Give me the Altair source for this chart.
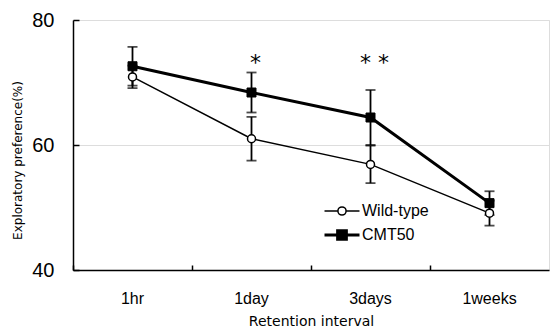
import altair as alt
import pandas as pd

# ---- data ----
intervals = ["1hr", "1day", "3days", "1weeks"]
series_names = ["Wild-type", "CMT50"]
wt_mean = [70.9, 61.0, 56.9, 49.1]
wt_err = [1.8, 3.5, 3.0, 2.0]
cmt_mean = [72.6, 68.4, 64.4, 50.7]
cmt_err = [3.1, 3.2, 4.4, 1.9]
star_intervals = ["1day", "3days"]
star_labels = ["*", "* *"]
star_y = [73.3, 73.3]
y_ticks = [40, 60, 80]

rows = []
for name, means, errs in [(series_names[0], wt_mean, wt_err), (series_names[1], cmt_mean, cmt_err)]:
    for iv, m, e in zip(intervals, means, errs):
        rows.append({"series": name, "interval": iv, "mean": m, "err": e})
df = pd.DataFrame(rows)
stars = pd.DataFrame({"interval": star_intervals, "y": star_y, "label": star_labels})

W, H = 476, 250
LABEL_FONT = "Liberation Sans"
TITLE_FONT = "DejaVu Sans"

x_scale = alt.Scale(type="band", domain=intervals, paddingInner=0, paddingOuter=0)
y_scale = alt.Scale(domain=[40, 80], nice=False, zero=False)

main_x_axis = alt.Axis(
    title="Retention interval", labelAngle=0, ticks=False, tickSize=0,
    domainColor="black", domainWidth=1.5,
    labelFont=LABEL_FONT, labelFontSize=16, labelColor="black", labelPadding=20,
    titleFont=TITLE_FONT, titleFontSize=14, titleFontWeight="normal", titleColor="black",
    titleY=51, titleBaseline="middle",
)
main_y_axis = alt.Axis(
    title="Exploratory preference(%)", values=y_ticks, ticks=False, tickSize=0,
    domainColor="black", domainWidth=1.5,
    labelFont=LABEL_FONT, labelFontSize=20, labelColor="black", labelPadding=19,
    titleFont=TITLE_FONT, titleFontSize=12, titleFontWeight="normal", titleColor="black",
    titleX=-56, titleY=140, titleAngle=270, titleAlign="center", titleBaseline="middle",
)
tick_x_axis = alt.Axis(orient="top", offset=-H, labels=False, domain=False, ticks=True,
                       tickSize=5, tickColor="black", tickWidth=1.5, bandPosition=0, title=None)
tick_y_axis = alt.Axis(orient="right", offset=-W, labels=False, domain=False, ticks=True,
                       tickSize=6, tickColor="black", tickWidth=1.5, values=y_ticks, title=None)

base = alt.Chart(df).transform_calculate(lo="datum.mean - datum.err", hi="datum.mean + datum.err")


def xenc(axis=None):
    return alt.X("interval:N", scale=x_scale, sort=intervals, axis=axis)


def yenc(field="mean", axis=None):
    return alt.Y(f"{field}:Q", scale=y_scale, axis=axis)


def one(name):
    return alt.datum.series == name


layers = []
# lines
layers.append(base.transform_filter(one("Wild-type")).mark_line(color="black", strokeWidth=1.5)
              .encode(x=xenc(main_x_axis), y=yenc(axis=main_y_axis)))
layers.append(base.transform_filter(one("CMT50")).mark_line(color="black", strokeWidth=3)
              .encode(x=xenc(), y=yenc()))
# error bars
layers.append(base.mark_rule(color="black", strokeWidth=1.8)
              .encode(x=xenc(), y=yenc("lo"), y2="hi:Q"))
layers.append(base.mark_tick(color="black", size=10, thickness=1.8)
              .encode(x=xenc(), y=yenc("lo")))
layers.append(base.mark_tick(color="black", size=10, thickness=1.8)
              .encode(x=xenc(), y=yenc("hi")))
# markers
layers.append(base.transform_filter(one("Wild-type"))
              .mark_point(shape="circle", size=64, filled=True, fill="white", stroke="black",
                          strokeWidth=1.5, opacity=1)
              .encode(x=xenc(), y=yenc()))
layers.append(base.transform_filter(one("CMT50"))
              .mark_point(shape="square", size=81, filled=True, fill="black", stroke="black",
                          strokeWidth=1, opacity=1)
              .encode(x=xenc(), y=yenc()))

# legend (invisible carrier layer, legend symbols are line + marker paths)
wt_path = "M-3,0L-0.7,0M0.7,0L3,0M-0.7,0A0.7,0.7,0,1,0,0.7,0A0.7,0.7,0,1,0,-0.7,0Z"
cmt_path = "M-3,0L3,0M-0.75,-0.75L0.75,-0.75L0.75,0.75L-0.75,0.75Z"
leg = alt.Legend(orient="none", legendX=261, legendY=183, title=None,
                 labelFont=LABEL_FONT, labelFontSize=16, labelColor="black",
                 symbolSize=136, labelOffset=12, rowPadding=5, padding=0,
                 symbolStrokeColor="black", symbolOpacity=1)
layers.append(base.mark_point(opacity=0).encode(
    x=xenc(tick_x_axis), y=yenc(axis=tick_y_axis),
    shape=alt.Shape("series:N", scale=alt.Scale(domain=series_names, range=[wt_path, cmt_path]), legend=leg),
    fill=alt.Fill("series:N", scale=alt.Scale(domain=series_names, range=["white", "black"]), legend=leg),
    stroke=alt.Stroke("series:N", scale=alt.Scale(domain=series_names, range=["black", "black"]), legend=leg),
    strokeWidth=alt.StrokeWidth("series:N", scale=alt.Scale(domain=series_names, range=[1.5, 3]), legend=leg),
))

# significance stars
layers.append(alt.Chart(stars).mark_text(font=TITLE_FONT, fontSize=22, color="black", dx=4, dy=1,
                                         baseline="middle")
              .encode(x=xenc(), y=alt.Y("y:Q", scale=y_scale, axis=None), text="label:N"))

chart = alt.layer(*layers).resolve_axis(x="independent", y="independent").properties(
    width=W, height=H,
    autosize=alt.AutoSizeParams(type="none"),
    padding={"left": 65, "top": 12, "right": 1, "bottom": 60},
).configure_view(stroke=None).configure_axis(grid=False).configure(background="white")

chart.save("out.html", embed_options={"renderer": "svg", "actions": False})
